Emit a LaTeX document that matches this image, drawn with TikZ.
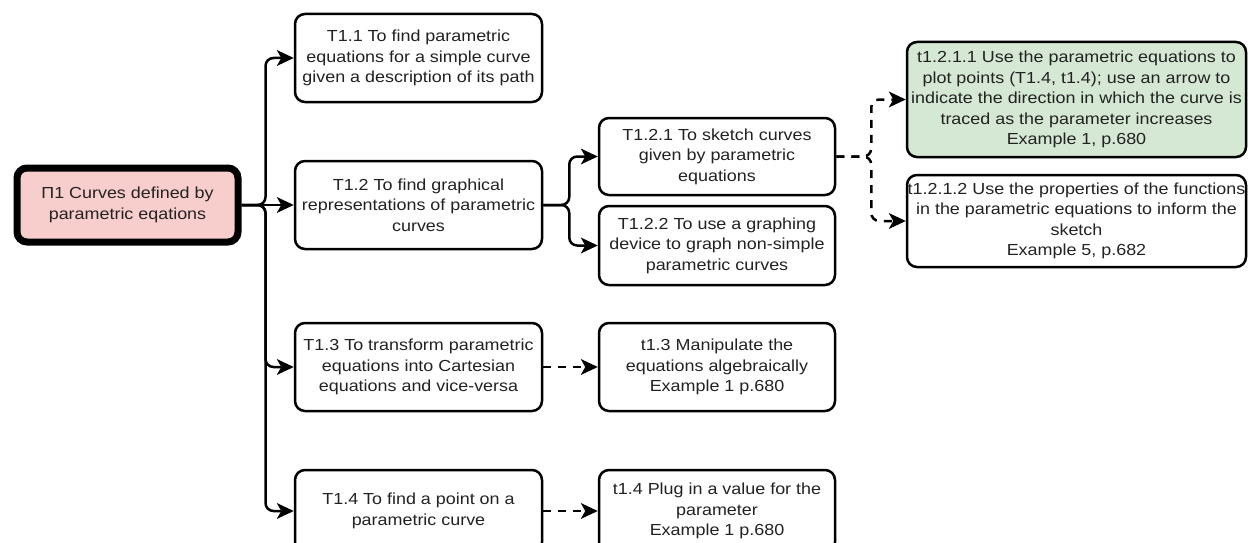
\documentclass[tikz,border=0pt]{standalone}
\usepackage{fontspec}
\setmainfont{Liberation Sans}[FakeStretch=1.12]
\usetikzlibrary{arrows.meta}
\definecolor{pinkfill}{HTML}{F8CECC}
\definecolor{greenfill}{HTML}{D5E8D4}
\definecolor{ink}{HTML}{222222}

\begin{document}
\begin{tikzpicture}[x=1pt,y=-1pt,
  box/.style={draw=black, line width=2.5pt, rounded corners=10pt, fill=white,
    align=center, inner sep=0pt, text=ink, font=\fontsize{16}{20.5}\selectfont},
  wide/.style={minimum width=247pt},
  narrow/.style={minimum width=236pt},
  tip/.tip={Stealth[length=17pt,width=16pt,inset=4.5pt,line width=0pt]},
  conn/.style={line width=2.5pt, rounded corners=8pt, -tip},
  dconn/.style={conn, dash pattern=on 8pt off 7pt},
]
\useasboundingbox (0,0) rectangle (1248,543);

% root topic
\node[box, fill=pinkfill, line width=7pt, minimum width=221pt, minimum height=74pt]
  (p1) at (127.5,205) {П1 Curves defined by\\parametric eqations};

% first-level tasks
\node[box, wide, minimum height=88pt] (t11) at (418.5,58)
  {T1.1 To find parametric\\equations for a simple curve\\given a description of its path};
\node[box, wide, minimum height=88pt] (t12) at (418.5,205)
  {T1.2 To find graphical\\representations of parametric\\curves};
\node[box, wide, minimum height=88pt] (t13) at (418.5,367)
  {T1.3 To transform parametric\\equations into Cartesian\\equations and vice-versa};
\node[box, wide, minimum height=82pt] (t14) at (418.5,511)
  {T1.4 To find a point on a\\parametric curve};

% second-level tasks and techniques
\node[box, narrow, minimum height=77pt] (t121) at (717,156.5)
  {T1.2.1 To sketch curves\\given by parametric\\equations};
\node[box, narrow, minimum height=79pt] (t122) at (717,245.5)
  {T1.2.2 To use a graphing\\device to graph non-simple\\parametric curves};
\node[box, narrow, minimum height=88pt] (k13) at (717,367)
  {t1.3 Manipulate the\\equations algebraically\\Example 1 p.680};
\node[box, narrow, minimum height=82pt] (k14) at (717,511)
  {t1.4 Plug in a value for the\\parameter\\Example 1 p.680};

% techniques for sketching
\node[box, fill=greenfill, minimum width=339pt, minimum height=115pt] (k1211) at (1076.5,99.5)
  {t1.2.1.1 Use the parametric equations to\\plot points (T1.4, t1.4); use an arrow to\\indicate the direction in which the curve is\\traced as the parameter increases\\Example 1, p.680};
\node[box, minimum width=339pt, minimum height=92pt] (k1212) at (1076.5,221)
  {t1.2.1.2 Use the properties of the functions\\in the parametric equations to inform the\\sketch\\Example 5, p.682};

% connectors from the root
\draw[conn] (p1.east) -- ++(24,0) |- (t11.west);
\draw[conn] (p1.east) -- (t12.west);
\draw[conn] (p1.east) -- ++(24,0) |- (t13.west);
\draw[conn] (p1.east) -- ++(24,0) |- (t14.west);

% T1.2 branches
\draw[conn] (t12.east) -- ++(26,0) |- (t121.west);
\draw[conn] (t12.east) -- ++(26,0) |- (t122.west);

% dashed links to techniques
\draw[dconn] (t121.east) -- ++(35,0) |- (k1211.west);
\draw[dconn] (t121.east) -- ++(35,0) |- (k1212.west);
\draw[dconn] (t13.east) -- (k13.west);
\draw[dconn] (t14.east) -- (k14.west);
\end{tikzpicture}
\end{document}
